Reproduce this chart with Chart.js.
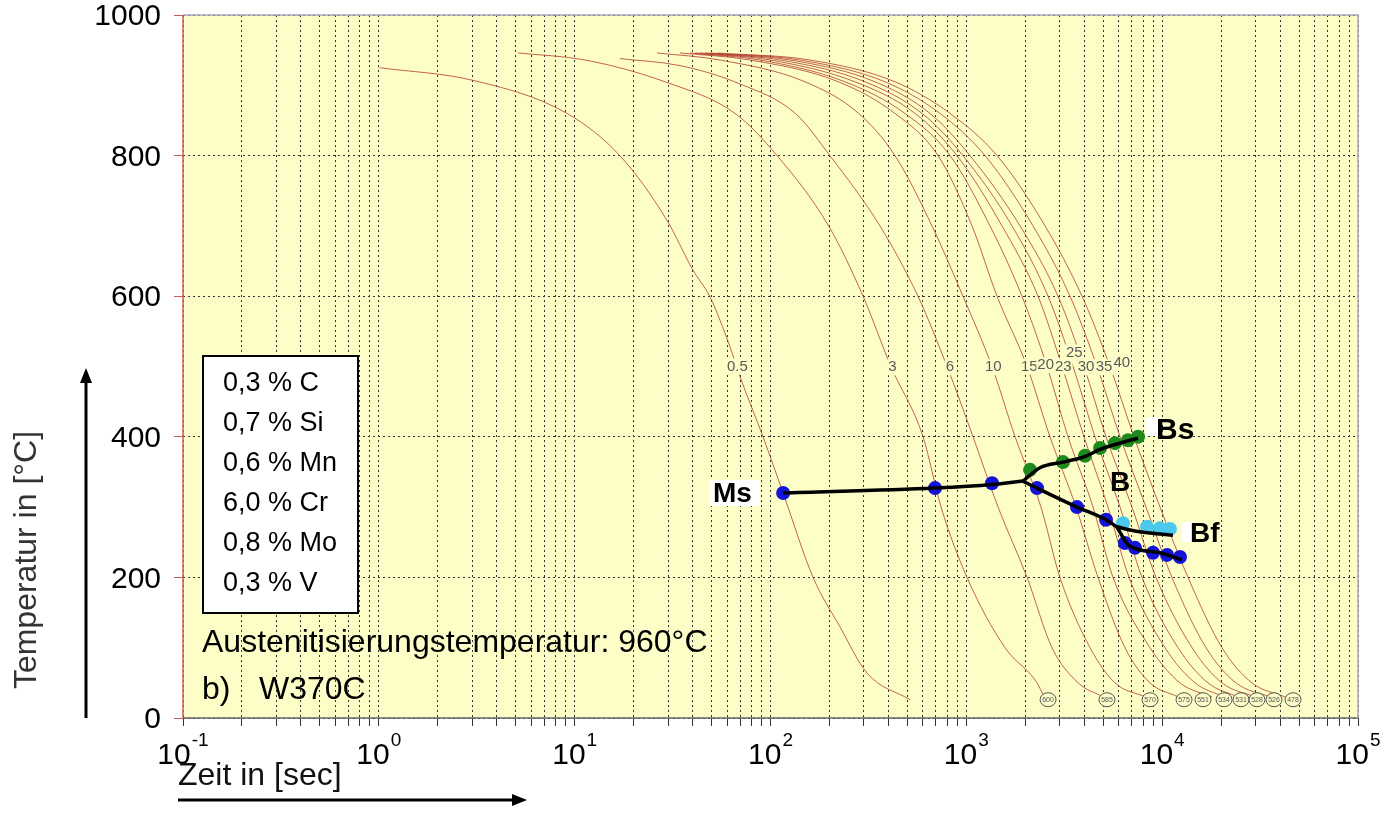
<!DOCTYPE html>
<html>
<head>
<meta charset="utf-8">
<script src="https://cdn.jsdelivr.net/npm/chart.js@4.4.0/dist/chart.umd.min.js"></script>
<style>
  body { margin: 0; background: #fff; }
  #wrap { width: 1400px; height: 814px; }
</style>
</head>
<body>
<div id="wrap"><canvas id="cct" width="1400" height="814"></canvas></div>
<script>
// axis ticks
const xMajorTicks = [0.1, 1, 10, 100, 1000, 10000, 100000];
const xMajorExp = ['-1', '0', '1', '2', '3', '4', '5'];
const xSignificands = [1, 2, 3, 4, 5, 6, 7, 8, 9];
const yTickValues = [0, 200, 400, 600, 800, 1000];

// cooling curves (time in s, temperature in °C)
const time05 = [1.01, 3.03, 9.14, 17.0, 29.6, 40.2, 49.1, 62.1, 69.8, 91.6, 116, 165, 226, 311, 516];
const temp05 = [925, 907, 860, 800, 708, 637, 599, 528, 486, 400, 320, 200, 130, 64, 26];
const time3 = [5.14, 11.3, 28.9, 65.9, 108, 198, 297, 412, 601, 743, 1008, 1576, 2296, 2493];
const temp3 = [946, 936, 905, 860, 800, 700, 600, 500, 400, 300, 200, 100, 50, 30];
const time6 = [17.0, 34.5, 69.8, 134, 201, 362, 566, 797, 1082, 1452, 2042, 2738, 3724, 5000];
const temp6 = [938, 928, 902, 860, 800, 700, 600, 500, 400, 300, 200, 100, 50, 30];
// curves 10 .. 40 share the same temperature levels
const levelTemps = [946, 936, 905, 860, 800, 700, 600, 500, 400, 300, 200, 100, 50, 30];
const time10 = [26.3, 55.2, 150, 282, 432, 668, 961, 1352, 1774, 2405, 3006, 4283, 5743, 8180];
const time15 = [34.5, 78.6, 222, 432, 717, 1069, 1435, 2042, 2674, 3631, 4702, 6457, 8670, 12050];
const time20 = [38.8, 88.4, 240, 486, 826, 1321, 1923, 2583, 3305, 4436, 5612, 8670, 12330, 17980];
const time23 = [41.2, 99.4, 270, 547, 896, 1521, 2323, 3083, 3990, 5287, 6775, 10340, 14720, 20700];
const time25 = [43.6, 112, 304, 594, 961, 1711, 2614, 3508, 4540, 6095, 7889, 12050, 17140, 24380];
const time30 = [46.3, 126, 342, 652, 1044, 1880, 2939, 3990, 5167, 7015, 9304, 14210, 20210, 29790];
const time35 = [49.1, 141, 384, 734, 1245, 2190, 3384, 4648, 6095, 8270, 11220, 16750, 23830, 35540];
const time40 = [53.9, 159, 432, 826, 1435, 2523, 3897, 5416, 7181, 9750, 13550, 20210, 28760, 42400];

// curve names and where they are written
const curveNames = ['0.5', '3', '6', '10', '15', '20', '23', '25', '30', '35', '40'];
const curveNameTimes = [67.7, 419, 825, 1373, 2097, 2543, 3128, 3559, 4085, 5047, 6217];
const curveNameTemps = [500, 499, 499, 499, 500, 502, 500, 520, 499, 499, 505];

// hardness at the end of the curves
const hardness = ['600', '585', '570', '575', '551', '534', '531', '528', '526', '478'];
const hardnessTimes = [2614, 5228, 8670, 12930, 16170, 20700, 25270, 30500, 37250, 46580];
const hardnessTemp = 26;

// transformation lines
const msLineTimes = [116, 692, 1352, 1947];
const msLineTemps = [320, 327, 332, 337];
const bsLineTimes = [1947, 2378, 3117, 4036, 4818, 5743, 7530];
const bsLineTemps = [337, 356, 364, 372, 382, 389, 398];
const bMidTimes = [1947, 2296, 3675, 5167, 5862];
const bMidTemps = [337, 327, 300, 282, 272];
const bfUpperTimes = [5862, 7266, 8657, 11350];
const bfUpperTemps = [272, 266, 263, 260];
const bfLowerTimes = [5862, 6792, 9750, 12620];
const bfLowerTemps = [272, 245, 235, 225];

// measured points
const blueTimes = [116, 692, 1352, 2296, 3675, 5167, 6457, 7266, 8979, 10590, 12330];
const blueTemps = [320, 327, 334, 327, 300, 282, 249, 242, 235, 232, 229];
const greenTimes = [2115, 3117, 4036, 4818, 5743, 6692, 7530];
const greenTemps = [353, 364, 373, 384, 391, 395, 400];
const cyanTimes = [6310, 8370, 9750, 10960];
const cyanTemps = [277, 272, 270, 269];

const composition = ['0,3 % C', '0,7 % Si', '0,6 % Mn', '6,0 % Cr', '0,8 % Mo', '0,3 % V'];

const FONT = '"Liberation Sans", Arial, Helvetica, sans-serif';
const plotBg = '#fdfdc8';
const curveColor = 'rgba(178, 62, 44, 0.8)';

const xGridValues = [];
xMajorTicks.forEach((d, i) => {
  if (i === xMajorTicks.length - 1) {
    xGridValues.push(d);
  } else {
    xSignificands.forEach((s) => xGridValues.push(s * d));
  }
});

const toPoints = (times, temps) => times.map((t, i) => ({ x: t, y: temps[i] }));

const coolingCurve = (times, temps) => ({
  data: toPoints(times, temps),
  borderColor: curveColor,
  borderWidth: 1,
  pointRadius: 0,
  cubicInterpolationMode: 'monotone',
  order: 3,
});

const blackLine = (times, temps) => ({
  data: toPoints(times, temps),
  borderColor: '#000',
  borderWidth: 3.5,
  pointRadius: 0,
  cubicInterpolationMode: 'monotone',
  order: 0,
});

const dots = (times, temps, color) => ({
  data: toPoints(times, temps),
  showLine: false,
  pointRadius: 7,
  pointBorderWidth: 0,
  pointBackgroundColor: color,
  order: 1,
});

const datasets = [
  coolingCurve(time05, temp05),
  coolingCurve(time3, temp3),
  coolingCurve(time6, temp6),
  coolingCurve(time10, levelTemps),
  coolingCurve(time15, levelTemps),
  coolingCurve(time20, levelTemps),
  coolingCurve(time23, levelTemps),
  coolingCurve(time25, levelTemps),
  coolingCurve(time30, levelTemps),
  coolingCurve(time35, levelTemps),
  coolingCurve(time40, levelTemps),
  dots(cyanTimes, cyanTemps, '#4cc8ec'),
  dots(blueTimes, blueTemps, '#1414d8'),
  dots(greenTimes, greenTemps, '#1e8a1e'),
  blackLine(msLineTimes, msLineTemps),
  blackLine(bsLineTimes, bsLineTemps),
  blackLine(bMidTimes, bMidTemps),
  blackLine(bfUpperTimes, bfUpperTemps),
  blackLine(bfLowerTimes, bfLowerTemps),
];

const arrow = (ctx, x1, y1, x2, y2) => {
  const ang = Math.atan2(y2 - y1, x2 - x1);
  const head = 15;
  ctx.beginPath();
  ctx.moveTo(x1, y1);
  ctx.lineTo(x2 - Math.cos(ang) * head, y2 - Math.sin(ang) * head);
  ctx.stroke();
  ctx.beginPath();
  ctx.moveTo(x2, y2);
  ctx.lineTo(x2 - Math.cos(ang) * head - Math.sin(ang) * 6, y2 - Math.sin(ang) * head + Math.cos(ang) * 6);
  ctx.lineTo(x2 - Math.cos(ang) * head + Math.sin(ang) * 6, y2 - Math.sin(ang) * head - Math.cos(ang) * 6);
  ctx.closePath();
  ctx.fill();
};

const overlay = {
  id: 'overlay',
  beforeDraw(chart) {
    const { ctx, chartArea: a } = chart;
    ctx.save();
    ctx.fillStyle = '#fff';
    ctx.fillRect(0, 0, chart.width, chart.height);
    ctx.fillStyle = plotBg;
    ctx.fillRect(a.left, a.top, a.right - a.left, a.bottom - a.top);
    ctx.restore();
  },
  afterDatasetsDraw(chart) {
    const { ctx } = chart;
    const xs = chart.scales.x;
    const ys = chart.scales.y;
    ctx.save();
    // curve names
    ctx.font = `15px ${FONT}`;
    ctx.textAlign = 'center';
    ctx.textBaseline = 'middle';
    curveNames.forEach((name, i) => {
      const px = xs.getPixelForValue(curveNameTimes[i]);
      const py = ys.getPixelForValue(curveNameTemps[i]);
      const w = ctx.measureText(name).width;
      ctx.fillStyle = plotBg;
      ctx.fillRect(px - w / 2 - 1, py - 8, w + 2, 16);
      ctx.fillStyle = '#5a5a5a';
      ctx.fillText(name, px, py);
    });
    // hardness circles
    ctx.font = `7px ${FONT}`;
    hardness.forEach((h, i) => {
      const px = xs.getPixelForValue(hardnessTimes[i]);
      const py = ys.getPixelForValue(hardnessTemp);
      ctx.beginPath();
      ctx.ellipse(px, py, 8, 7, 0, 0, Math.PI * 2);
      ctx.fillStyle = plotBg;
      ctx.fill();
      ctx.strokeStyle = '#555';
      ctx.lineWidth = 1;
      ctx.stroke();
      ctx.fillStyle = '#555';
      ctx.fillText(h, px, py + 0.5);
    });
    ctx.restore();
  },
  afterDraw(chart) {
    const { ctx, chartArea: a } = chart;
    const xs = chart.scales.x;
    const ys = chart.scales.y;
    ctx.save();
    // frame
    ctx.lineWidth = 1.5;
    ctx.strokeStyle = '#a8a8b8';
    ctx.beginPath();
    ctx.moveTo(a.left, a.top);
    ctx.lineTo(a.right, a.top);
    ctx.lineTo(a.right, a.bottom);
    ctx.stroke();
    ctx.strokeStyle = '#666';
    ctx.beginPath();
    ctx.moveTo(a.left, a.bottom);
    ctx.lineTo(a.right, a.bottom);
    ctx.stroke();
    ctx.strokeStyle = '#d05a5a';
    ctx.beginPath();
    ctx.moveTo(a.left, a.top);
    ctx.lineTo(a.left, a.bottom);
    ctx.stroke();

    // y tick labels
    ctx.fillStyle = '#000';
    ctx.font = `30px ${FONT}`;
    ctx.textAlign = 'right';
    ctx.textBaseline = 'middle';
    yTickValues.forEach((v) => {
      ctx.fillText(String(v), 161, ys.getPixelForValue(v) + 2);
    });

    // x tick labels 10^n
    ctx.textAlign = 'left';
    ctx.textBaseline = 'alphabetic';
    xMajorTicks.forEach((v, i) => {
      const px = xs.getPixelForValue(v);
      ctx.font = `30px ${FONT}`;
      const w10 = ctx.measureText('10').width;
      ctx.font = `19px ${FONT}`;
      const wExp = ctx.measureText(xMajorExp[i]).width;
      const x0 = px - (w10 + 1 + wExp) / 2;
      ctx.font = `30px ${FONT}`;
      ctx.fillText('10', x0, 764);
      ctx.font = `19px ${FONT}`;
      ctx.fillText(xMajorExp[i], x0 + w10 + 1, 746);
    });

    // axis titles and arrows
    ctx.font = `32px ${FONT}`;
    ctx.fillStyle = '#111';
    ctx.textBaseline = 'middle';
    ctx.fillText('Zeit in [sec]', 178, 776);
    ctx.save();
    ctx.translate(27, 560);
    ctx.rotate(-Math.PI / 2);
    ctx.textAlign = 'center';
    ctx.fillStyle = '#333';
    ctx.fillText('Temperatur in [°C]', 0, 0);
    ctx.restore();
    ctx.strokeStyle = '#000';
    ctx.fillStyle = '#000';
    ctx.lineWidth = 3;
    arrow(ctx, 86, 718, 86, 368);
    arrow(ctx, 178, 800, 527, 800);

    // composition box
    ctx.fillStyle = '#fff';
    ctx.fillRect(203, 356, 155, 257);
    ctx.lineWidth = 2;
    ctx.strokeStyle = '#000';
    ctx.strokeRect(203, 356, 155, 257);
    ctx.fillStyle = '#000';
    ctx.font = `27px ${FONT}`;
    ctx.textAlign = 'left';
    composition.forEach((line, i) => {
      ctx.fillText(line, 223, 384 + i * 40);
    });
    ctx.font = `32px ${FONT}`;
    ctx.fillText('Austenitisierungstemperatur: 960°C', 202, 643);
    ctx.fillText('b)', 202, 690);
    ctx.fillText('W370C', 259, 690);

    // phase labels
    ctx.fillStyle = '#fff';
    ctx.fillRect(710, 480, 50, 26);
    ctx.fillRect(1146, 417, 14, 19);
    ctx.fillRect(1182, 522, 12, 20);
    ctx.fillStyle = '#000';
    ctx.font = `bold 28px ${FONT}`;
    ctx.fillText('Ms', 713, 494);
    ctx.fillText('B', 1110, 483);
    ctx.fillText('Bf', 1190, 534);
    ctx.font = `bold 30px ${FONT}`;
    ctx.fillText('Bs', 1156, 431);
    ctx.restore();
  },
};

const gridDark = '#333';

new Chart(document.getElementById('cct'), {
  type: 'line',
  data: { datasets },
  options: {
    responsive: false,
    animation: false,
    layout: { padding: { left: 183, right: 42, top: 15, bottom: 96 } },
    plugins: { legend: { display: false }, tooltip: { enabled: false } },
    scales: {
      x: {
        type: 'logarithmic',
        min: 0.1,
        max: 100000,
        afterBuildTicks: (scale) => {
          scale.ticks = xGridValues.map((v) => ({ value: v }));
        },
        afterFit: (scale) => {
          scale.height = 0;
        },
        ticks: { display: false },
        grid: {
          color: gridDark,
          lineWidth: 1,
          drawTicks: true,
          tickLength: 8,
          tickColor: '#333',
          tickBorderDash: [],
        },
        border: { display: false, dash: [2, 3] },
      },
      y: {
        type: 'linear',
        min: 0,
        max: 1000,
        afterBuildTicks: (scale) => {
          scale.ticks = yTickValues.map((v) => ({ value: v }));
        },
        afterFit: (scale) => {
          scale.width = 0;
        },
        ticks: { display: false },
        grid: {
          color: gridDark,
          lineWidth: 1,
          drawTicks: true,
          tickLength: 9,
          tickColor: '#c85a5a',
          tickBorderDash: [],
        },
        border: { display: false, dash: [2, 3] },
      },
    },
  },
  plugins: [overlay],
});
</script>
</body>
</html>
